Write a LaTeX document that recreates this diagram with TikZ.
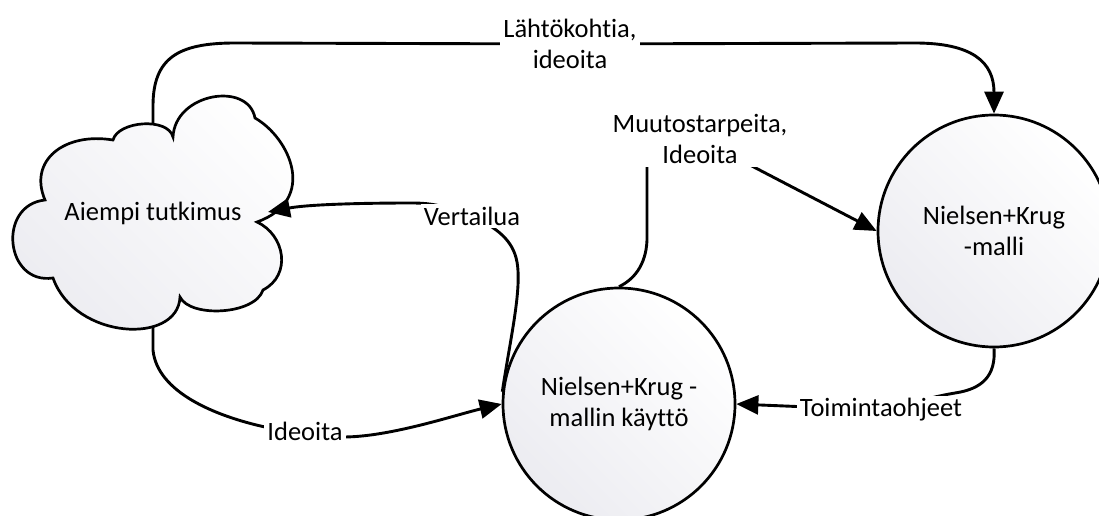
\documentclass[tikz,border=0pt]{standalone}
\usepackage{fontspec}
\setmainfont{Carlito}[Ligatures=NoCommon]
\usetikzlibrary{arrows.meta}
\pgfdeclarelayer{labels}
\pgfsetlayers{main,labels}
\definecolor{shadegrey}{RGB}{236,236,241}

\begin{document}
\begin{tikzpicture}[x=1pt,y=-1pt,
  every node/.style={font=\fontsize{26.5}{31}\selectfont},
  shapefill/.style={top color=white, middle color=white, bottom color=shadegrey, shading angle=-45},
  outline/.style={draw=black, line width=2.7pt},
  bubble/.style={circle, outline, shapefill, minimum size=232pt, inner sep=0pt, align=center},
  flow/.style={draw=black, line width=2.9pt, -{Triangle[length=22pt,width=19pt]}},
  tag/.style={fill=white, inner sep=3pt, align=center}
]
\clip (0,0) rectangle (1099,516);
\fill[white] (0,0) rectangle (1099,516);

% cloud outline, lobe by lobe
\path[outline, shapefill]
  (113,140) .. controls (118,121) and (168,117) .. (173,137)
            .. controls (175,93) and (248,81) .. (255,118)
            .. controls (290,138) and (318,200) .. (257,222)
            .. controls (285,235) and (292,275) .. (263,290)
            .. controls (255,315) and (190,318) .. (180,297)
            .. controls (178,345) and (75,340) .. (53,278)
            .. controls (5,285) and (-3,205) .. (45,200)
            .. controls (28,160) and (65,132) .. (113,140) -- cycle;
\node (cloud) at (153,213) {Aiempi tutkimus};
\coordinate (cloudTop) at (153,124);
\coordinate (cloudRight) at (268,212);
\coordinate (cloudBottom) at (153,327);

% process circles
\node[bubble] (c1) at (619,404) {Nielsen+Krug -\\mallin käyttö};
\node[bubble] (c2) at (994,231) {Nielsen+Krug\\-malli};

% connector labels sit above the lines
\begin{pgfonlayer}{labels}
\node[tag] (lblTop) at (570,44) {Lähtökohtia,\\ideoita};
\node[tag] (lblChange) at (700,139) {Muutostarpeita,\\Ideoita};
\node[tag] (lblCompare) at (472,216) {Vertailua};
\node[tag] (lblIdeas) at (305,431) {Ideoita};
\node[tag] (lblGuide) at (881,410) {Toimintaohjeet};
\end{pgfonlayer}

% connectors
\draw[flow] (cloudTop) -- (153,106) .. controls (153,58) and (178,43) .. (235,43)
  -- (lblTop.center) -- (915,43) .. controls (972,43) and (994,62) .. (c2.north);

\draw[flow] (c1.north) .. controls (633,280) and (646,266) .. (647,240) -- (647,150)
  -- (lblChange.center) -- (c2.180);

\draw[flow] (c1.174) .. controls (510,340) and (522,290) .. (517,262)
  .. controls (513,240) and (497,228) .. (lblCompare.center)
  .. controls (445,206) and (432,203) .. (412,203)
  .. controls (350,203) and (305,205) .. (cloudRight);

\draw[flow] (cloudBottom) -- (153,350) .. controls (157,392) and (215,416) .. (265,427)
  -- (lblIdeas.center) -- (343,437) .. controls (390,437) and (455,415) .. (c1.west);

\draw[flow] (c2.south) .. controls (996,376) and (982,389) .. (955,393)
  .. controls (925,398) and (905,406) .. (lblGuide.center) -- (c1.east);
\end{tikzpicture}
\end{document}
